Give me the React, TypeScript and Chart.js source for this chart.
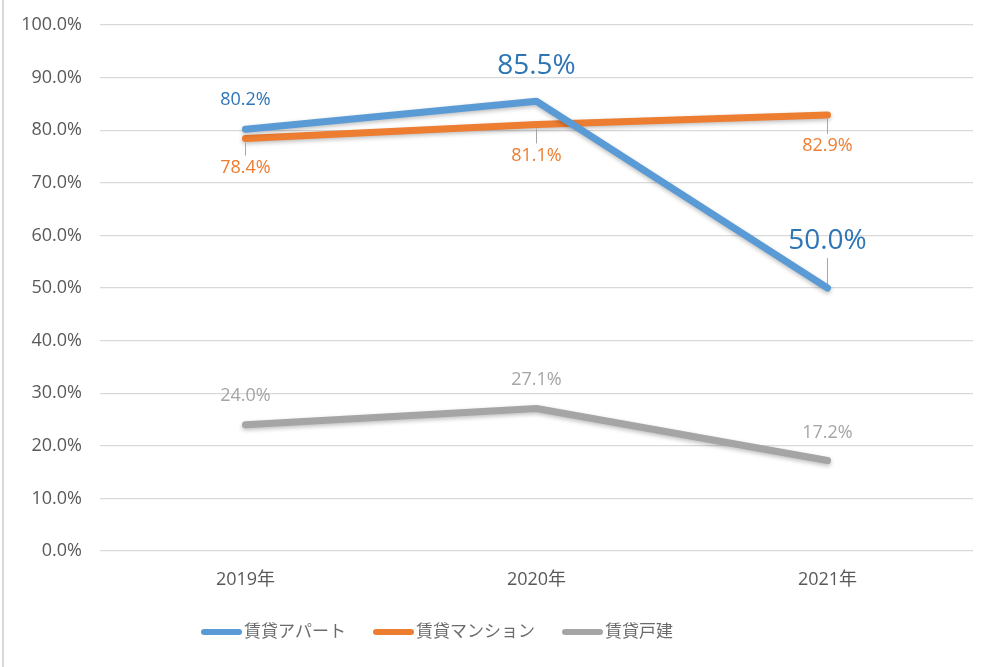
import React, { useRef, useEffect } from 'react';
import { Chart, registerables } from 'chart.js';

Chart.register(...registerables);

const years = ['2019年', '2020年', '2021年'];
const apartment = [80.2, 85.5, 50.0];
const mansion = [78.4, 81.1, 82.9];
const house = [24.0, 27.1, 17.2];
const seriesNames = ['賃貸アパート', '賃貸マンション', '賃貸戸建'];
const yTicks = [0, 10, 20, 30, 40, 50, 60, 70, 80, 90, 100];

const FONT = '"Open Sans", "Noto Sans CJK JP", sans-serif';
const colors = ['#5B9BD5', '#ED7D31', '#A5A5A5'];

// label styling per point: vertical offset from the point, font size, leader line
const labelStyle: any = [
  { color: '#2E75B6', offset: [-29, -35, -47], size: [18, 28, 28], leader: [false, false, true] },
  { color: '#ED7D31', offset: [29, 31, 31], size: [18, 18, 18], leader: [true, true, true] },
  { color: '#A5A5A5', offset: [-29, -29, -28], size: [18, 18, 18], leader: [false, false, false] },
];

const shadowPlugin = {
  id: 'lineShadow',
  beforeDatasetDraw(chart: any) {
    const ctx = chart.ctx;
    ctx.save();
    ctx.shadowColor = 'rgba(0,0,0,0.25)';
    ctx.shadowBlur = 4;
    ctx.shadowOffsetY = 2;
  },
  afterDatasetDraw(chart: any) {
    chart.ctx.restore();
  },
};

const labelPlugin = {
  id: 'pointLabels',
  afterDatasetsDraw(chart: any) {
    const ctx = chart.ctx;
    chart.data.datasets.forEach((ds: any, di: number) => {
      const st = labelStyle[di];
      const meta = chart.getDatasetMeta(di);
      meta.data.forEach((pt: any, i: number) => {
        const v = ds.data[i];
        const y = pt.y + st.offset[i];
        ctx.save();
        if (st.leader[i]) {
          ctx.strokeStyle = '#A6A6A6';
          ctx.lineWidth = 1;
          ctx.beginPath();
          const dir = Math.sign(st.offset[i]);
          ctx.moveTo(pt.x, pt.y + dir * 4);
          ctx.lineTo(pt.x, y - dir * (st.size[i] / 2 + 3));
          ctx.stroke();
        }
        ctx.fillStyle = st.color;
        ctx.font = `${st.size[i]}px ${FONT}`;
        ctx.textAlign = 'center';
        ctx.textBaseline = 'middle';
        ctx.fillText(v.toFixed(1) + '%', pt.x, y);
        ctx.restore();
      });
    });
  },
};

// legend drawn like the spreadsheet one: long rounded line, text right after it
const legendPlugin = {
  id: 'sheetLegend',
  afterDraw(chart: any) {
    const ctx = chart.ctx;
    let x = 201;
    const y = 632;
    ctx.save();
    ctx.font = `17px ${FONT}`;
    ctx.textBaseline = 'middle';
    chart.data.datasets.forEach((ds: any) => {
      ctx.strokeStyle = ds.borderColor;
      ctx.lineWidth = 6;
      ctx.lineCap = 'round';
      ctx.beginPath();
      ctx.moveTo(x + 3, y);
      ctx.lineTo(x + 38, y);
      ctx.stroke();
      x += 43;
      ctx.fillStyle = '#6B6B6B';
      ctx.fillText(ds.label, x, y);
      x += ctx.measureText(ds.label).width + 27;
    });
    ctx.restore();
  },
};

const App: React.FC = () => {
  const canvasRef = useRef<HTMLCanvasElement>(null);

  useEffect(() => {
    document.body.style.margin = '0';
    if (!canvasRef.current) return;
    const values = [apartment, mansion, house];
    const chart = new Chart(canvasRef.current, {
      type: 'line',
      data: {
        labels: years,
        datasets: values.map((d, i) => ({
          label: seriesNames[i],
          data: d,
          borderColor: colors[i],
          backgroundColor: colors[i],
          borderWidth: 7,
          pointRadius: 0,
          tension: 0,
          borderCapStyle: 'round' as const,
          borderJoinStyle: 'round' as const,
        })),
      },
      options: {
        animation: false,
        responsive: false,
        layout: { padding: { top: 25, right: 27, bottom: 58, left: 0 } },
        plugins: {
          tooltip: { enabled: false },
          legend: { display: false },
        },
        scales: {
          x: {
            offset: true,
            grid: { display: false, drawTicks: false },
            border: { display: false },
            ticks: { color: '#595959', font: { family: FONT, size: 18 }, padding: 18 },
            afterFit: (s: any) => { s.height = 58; },
          },
          y: {
            min: 0,
            max: 100,
            afterBuildTicks: (s: any) => { s.ticks = yTicks.map((v) => ({ value: v })); },
            grid: { color: '#D9D9D9', lineWidth: 1.3, drawTicks: false },
            border: { display: false },
            ticks: {
              color: '#595959',
              font: { family: FONT, size: 18 },
              padding: 18,
              callback: (v: any) => Number(v).toFixed(1) + '%',
            },
            afterFit: (s: any) => { s.width = 100; s.paddingTop = 0; s.paddingBottom = 0; },
          },
        },
      },
      plugins: [shadowPlugin, labelPlugin, legendPlugin],
    } as any);
    return () => {
      chart.destroy();
    };
  }, []);

  return (
    <div style={{ position: 'relative', width: 1000, height: 667, background: '#fff' }}>
      <canvas ref={canvasRef} width={1000} height={667} />
      <div style={{ position: 'absolute', left: 2, top: 0, width: 2, height: 667, background: '#D9D9D9' }} />
    </div>
  );
};

export default App;
